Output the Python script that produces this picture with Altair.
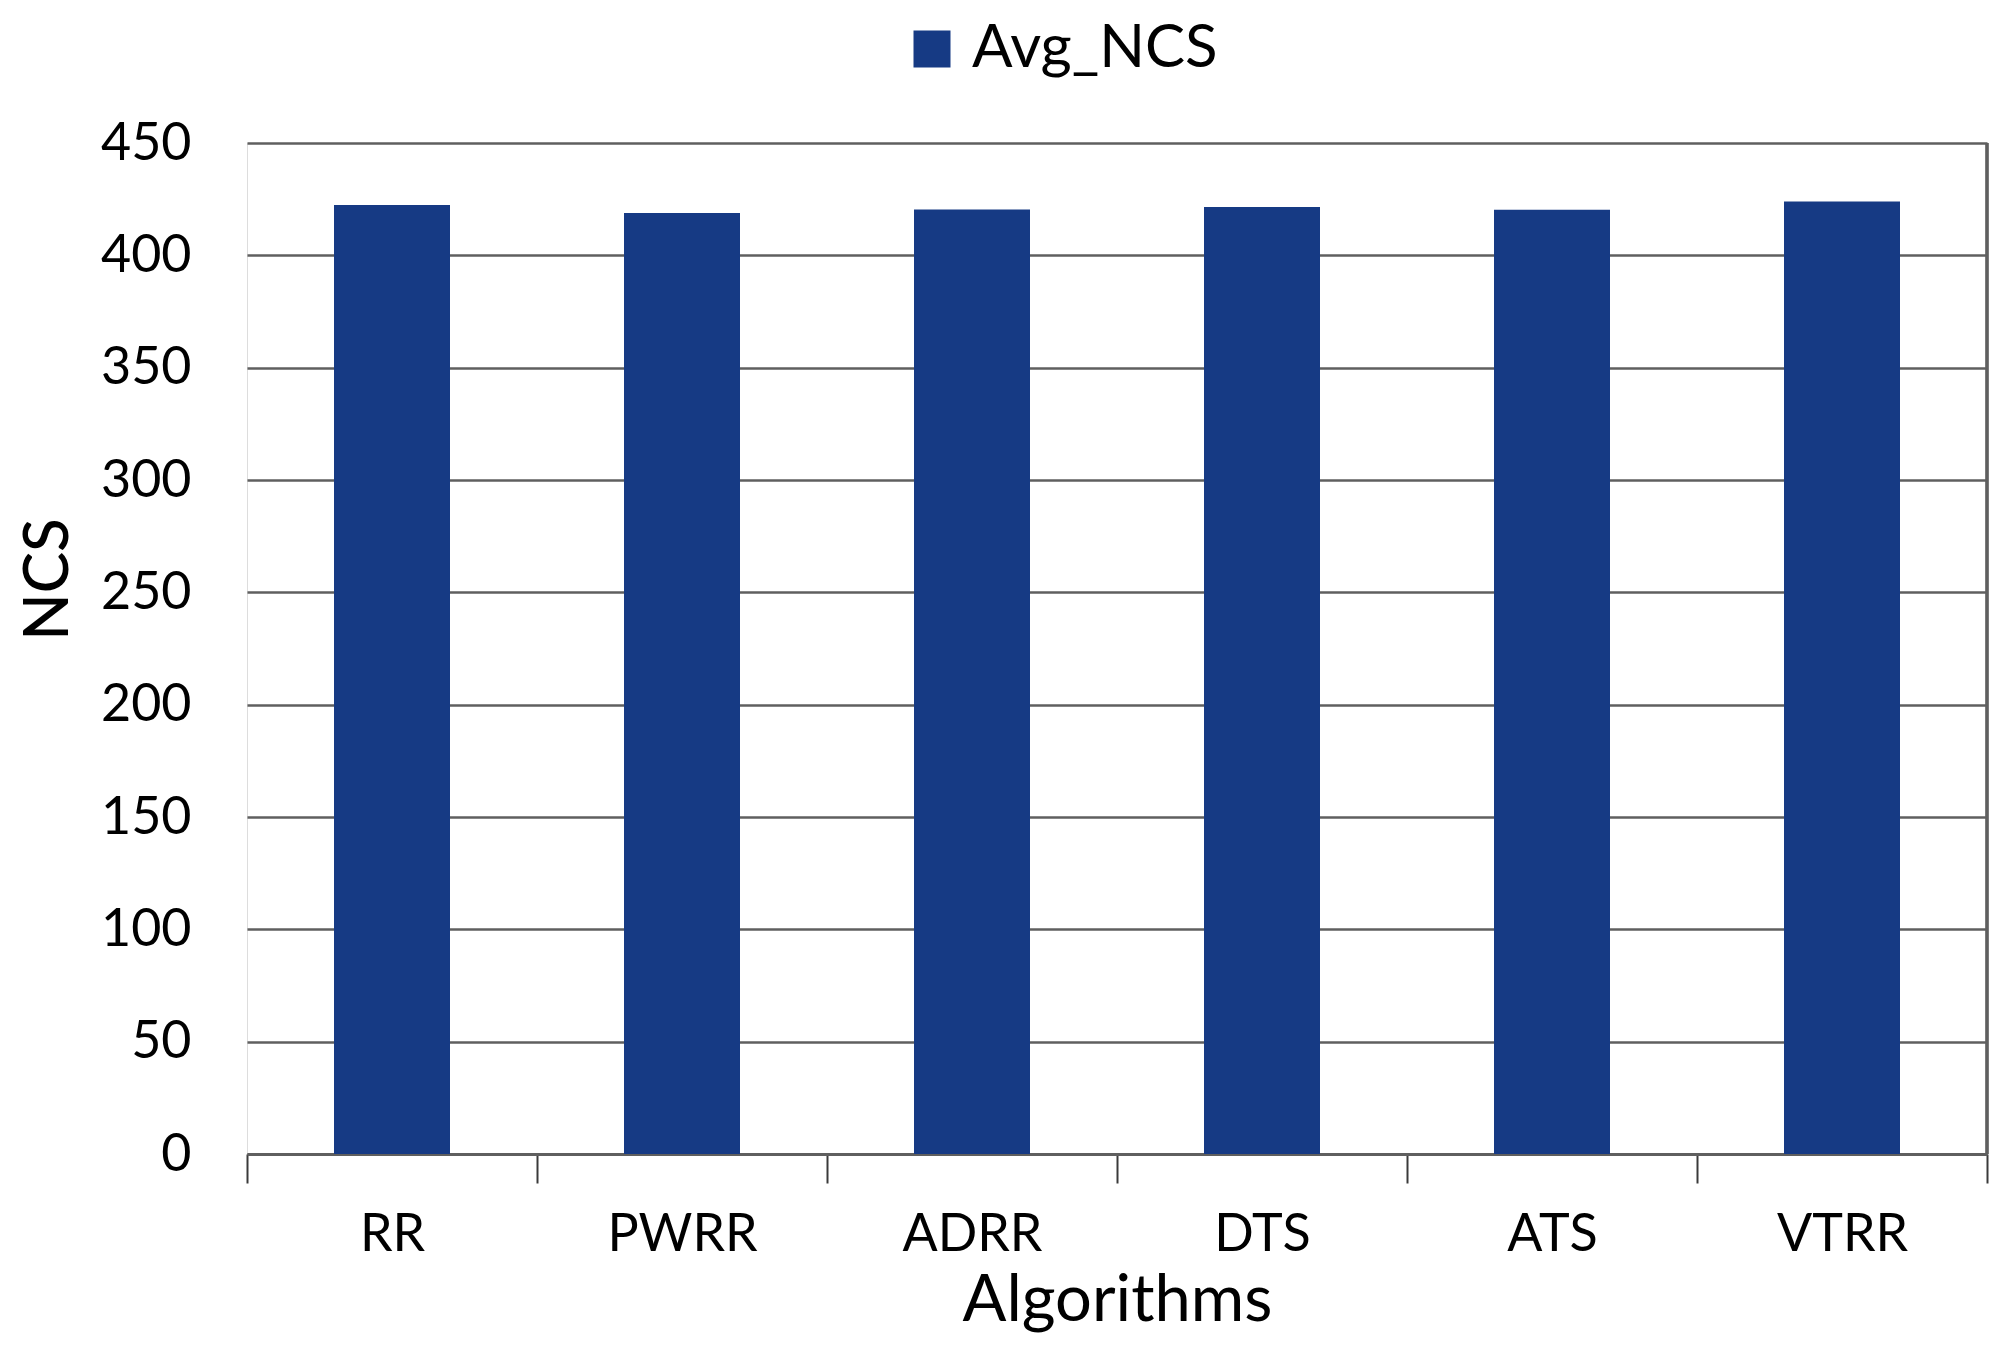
import altair as alt
import pandas as pd

algorithms = ["RR", "PWRR", "ADRR", "DTS", "ATS", "VTRR"]
avg_ncs = [422.4, 418.8, 420.4, 421.5, 420.3, 424.0]
series = ["Avg_NCS"] * len(algorithms)
y_ticks = [0, 50, 100, 150, 200, 250, 300, 350, 400, 450]

df = pd.DataFrame({"Algorithms": algorithms, "NCS": avg_ncs, "Series": series})

W, H = 1740, 1011
FONT = "Lato"
BAR = "#163A84"
GRID = "#5F5F5F"

bars = alt.Chart(df).mark_bar(color=BAR, width=alt.RelativeBandSize(0.4)).encode(
    x=alt.X(
        "Algorithms:N",
        sort=algorithms,
        scale=alt.Scale(paddingInner=0, paddingOuter=0),
        axis=alt.Axis(
            title="Algorithms",
            labelAngle=0,
            labelFont=FONT,
            labelFontSize=52,
            labelColor="#000000",
            labelBaseline="alphabetic",
            labelPadding=67,
            tickBand="extent",
            tickSize=29,
            tickColor="#3a3a3a",
            tickWidth=2,
            domainColor=GRID,
            domainWidth=3,
            titleFont=FONT,
            titleFontSize=65,
            titleFontWeight="normal",
            titleColor="#000000",
            titleBaseline="alphabetic",
            titleY=166,
            titleX=W / 2,
            grid=False,
        ),
    ),
    y=alt.Y(
        "NCS:Q",
        scale=alt.Scale(domain=[0, 450], nice=False),
        axis=alt.Axis(
            title="NCS",
            values=y_ticks,
            labelFont=FONT,
            labelFontSize=52,
            labelColor="#000000",
            labelPadding=56,
            ticks=False,
            domain=False,
            grid=True,
            gridColor=GRID,
            gridWidth=2.5,
            titleFont=FONT,
            titleFontSize=62,
            titleFontWeight=500,
            titleColor="#000000",
            titleBaseline="alphabetic",
            titleX=-180,
            titleY=436,
        ),
    ),
    color=alt.Color(
        "Series:N",
        scale=alt.Scale(domain=["Avg_NCS"], range=[BAR]),
        legend=alt.Legend(
            title=None,
            orient="none",
            legendX=655,
            legendY=-124,
            symbolType="square",
            symbolSize=1369,
            symbolStrokeWidth=0,
            labelFont=FONT,
            labelFontSize=60,
            labelColor="#000000",
            labelOffset=10,
            labelLimit=0,
            padding=0,
        ),
    ),
)

right_border = alt.Chart(df).mark_rule(color=GRID, strokeWidth=2.5).encode(
    x=alt.value(W), y=alt.value(0), y2=alt.value(H)
)

chart = (
    alt.layer(bars, right_border)
    .properties(
        width=W,
        height=H,
        autosize=alt.AutoSizeParams(type="none"),
        padding={"left": 239, "top": 135, "right": 5, "bottom": 190},
    )
    .configure_view(stroke=None)
    .configure(background="white")
)

chart.save("out.html", embed_options={"renderer": "svg", "actions": False})
